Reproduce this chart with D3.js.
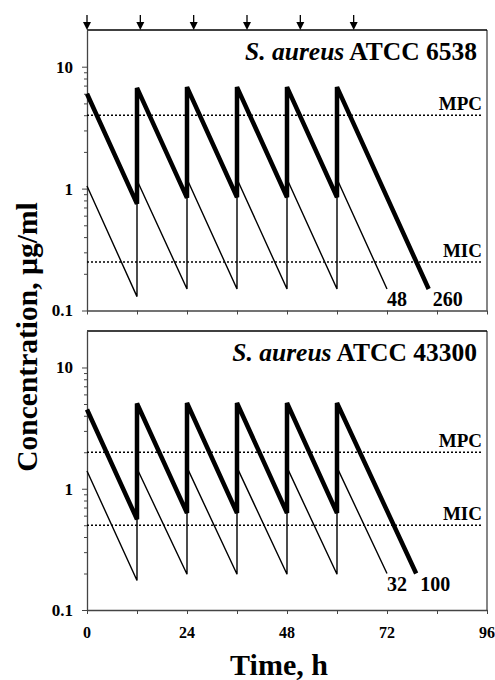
<!DOCTYPE html>
<html>
<head>
<meta charset="utf-8">
<script src="https://cdn.jsdelivr.net/npm/d3@7"></script>
<style>
  body { margin: 0; background: #fff; }
  text { font-family: "Liberation Serif", "Times New Roman", serif; font-weight: bold; fill: #000; }
</style>
</head>
<body>
<svg id="chart" width="495" height="680"></svg>
<script>
// dosing arrows (h) as drawn on top of the figure
var doseArrows = [0, 12.8, 25.6, 38.4, 51.2, 64];
var xTickValues = [0, 12, 24, 36, 48, 60, 72, 84, 96];
var xTickLabels = [0, 24, 48, 72, 96];
var yTickLabels = [0.1, 1, 10];

// panel 1: S. aureus ATCC 6538
var time6538Thick = [0, 12, 12, 24, 24, 36, 36, 48, 48, 60, 60, 82];
var conc6538Thick = [6.0, 0.75, 6.7, 0.84, 6.8, 0.85, 6.8, 0.85, 6.8, 0.85, 6.8, 0.15];
var time6538Thin = [0, 12, 12, 24, 24, 36, 36, 48, 48, 60, 60, 72];
var conc6538Thin = [1.05, 0.13, 1.17, 0.15, 1.2, 0.15, 1.2, 0.15, 1.2, 0.15, 1.2, 0.15];

// panel 2: S. aureus ATCC 43300
var time43300Thick = [0, 12, 12, 24, 24, 36, 36, 48, 48, 60, 60, 79];
var conc43300Thick = [4.5, 0.56, 5.05, 0.63, 5.1, 0.63, 5.1, 0.63, 5.1, 0.63, 5.1, 0.2];
var time43300Thin = [0, 12, 12, 24, 24, 36, 36, 48, 48, 60, 60, 72];
var conc43300Thin = [1.4, 0.175, 1.47, 0.197, 1.5, 0.197, 1.5, 0.197, 1.5, 0.197, 1.5, 0.2];

var panels = [
    { strain: "ATCC 6538", mpc: 4, mic: 0.25, thinLabel: "48", thickLabel: "260",
      thickT: time6538Thick, thickC: conc6538Thick, thinT: time6538Thin, thinC: conc6538Thin,
      top: 30, bottom: 310.5, xLabels: false, arrows: true },
    { strain: "ATCC 43300", mpc: 2, mic: 0.5, thinLabel: "32", thickLabel: "100",
      thickT: time43300Thick, thickC: conc43300Thick, thinT: time43300Thin, thinC: conc43300Thin,
      top: 331, bottom: 610, xLabels: true, arrows: false }
];

var svg = d3.select("#chart");
var left = 87, right = 487;
var axisColor = "#444";

var x = d3.scaleLinear().domain([0, 96]).range([left, right]);

function zip(t, c) {
    return t.map(function(d, i) { return [d, c[i]]; });
}

panels.forEach(function(p) {
    var y = d3.scaleLog().domain([0.1, 20]).range([p.bottom, p.top]);
    var g = svg.append("g");

    // frame: right and top border
    g.append("line").attr("x1", right).attr("x2", right).attr("y1", p.top).attr("y2", p.bottom)
        .attr("stroke", axisColor).attr("stroke-width", 1.3);
    g.append("line").attr("x1", left).attr("x2", right).attr("y1", p.top).attr("y2", p.top)
        .attr("stroke", "#000").attr("stroke-width", 1.5);

    // y axis with log minor ticks
    var yAxis = g.append("g").attr("transform", "translate(" + left + ",0)")
        .call(d3.axisLeft(y).ticks(10).tickSizeOuter(0).tickFormat(""));
    yAxis.selectAll(".tick line")
        .attr("x2", function(d) { return yTickLabels.indexOf(d) >= 0 ? -5 : -3; });
    yAxis.selectAll(".tick").filter(function(d) { return d > 19; }).remove();
    yAxis.select(".domain").attr("stroke", axisColor).attr("stroke-width", 1.3);
    yAxis.selectAll("line").attr("stroke", axisColor);

    g.selectAll(".ylab").data(yTickLabels).enter().append("text")
        .attr("x", 73).attr("y", function(d) { return y(d); })
        .attr("dy", "0.35em").attr("text-anchor", "end")
        .style("font-size", "17px")
        .text(function(d) { return d; });

    // x axis
    var xAxis = g.append("g").attr("transform", "translate(0," + p.bottom + ")")
        .call(d3.axisBottom(x).tickValues(xTickValues).tickSize(4).tickSizeOuter(0).tickFormat(""));
    xAxis.select(".domain").attr("stroke", axisColor).attr("stroke-width", 1.3);
    xAxis.selectAll("line").attr("stroke", axisColor);

    if (p.xLabels) {
        g.selectAll(".xlab").data(xTickLabels).enter().append("text")
            .attr("x", function(d) { return x(d); }).attr("y", 638)
            .attr("text-anchor", "middle").style("font-size", "16px")
            .text(function(d) { return d; });
    }

    // MPC / MIC dotted lines
    [["MPC", p.mpc], ["MIC", p.mic]].forEach(function(r) {
        g.append("line").attr("x1", left).attr("x2", right - 4)
            .attr("y1", y(r[1])).attr("y2", y(r[1]))
            .attr("stroke", "#000").attr("stroke-width", 1.4).attr("stroke-dasharray", "2,2");
        g.append("text").attr("x", 482).attr("y", y(r[1]) - 5)
            .attr("text-anchor", "end").style("font-size", "19px").text(r[0]);
    });

    // concentration curves
    var line = d3.line().x(function(d) { return x(d[0]); }).y(function(d) { return y(d[1]); });
    var thin = zip(p.thinT, p.thinC), thick = zip(p.thickT, p.thickC);
    g.append("path").datum(thin).attr("d", line)
        .attr("fill", "none").attr("stroke", "#000").attr("stroke-width", 1.4);
    g.append("path").datum(thick).attr("d", line)
        .attr("fill", "none").attr("stroke", "#000").attr("stroke-width", 4.5)
        .attr("stroke-linejoin", "miter");

    var thinEnd = thin[thin.length - 1], thickEnd = thick[thick.length - 1];
    g.append("text").attr("x", x(thinEnd[0]) + 10).attr("y", y(thinEnd[1]) + 17)
        .attr("text-anchor", "middle").style("font-size", "20px").text(p.thinLabel);
    g.append("text").attr("x", x(thickEnd[0]) + 19).attr("y", y(thickEnd[1]) + 17)
        .attr("text-anchor", "middle").style("font-size", "20px").text(p.thickLabel);

    // strain title
    var title = g.append("text").attr("x", 477).attr("y", p.top + 30)
        .attr("text-anchor", "end").style("font-size", "25.5px");
    title.append("tspan").style("font-style", "italic").text("S. aureus");
    title.append("tspan").text(" " + p.strain);

    // dosing arrows
    if (p.arrows) {
        var arr = g.selectAll(".arrow").data(doseArrows).enter().append("g")
            .attr("transform", function(d) { return "translate(" + x(d) + "," + p.top + ")"; });
        arr.append("line").attr("y1", -15).attr("y2", -6).attr("stroke", "#000").attr("stroke-width", 1.3);
        arr.append("path").attr("d", "M-4,-8L4,-8L0,0Z").attr("fill", "#000");
    }
});

// axis titles
svg.append("text").attr("x", 279).attr("y", 675).attr("text-anchor", "middle")
    .style("font-size", "30px").text("Time, h");
svg.append("text").attr("transform", "translate(37,337) rotate(-90)")
    .attr("text-anchor", "middle").style("font-size", "29.5px").text("Concentration, µg/ml");
</script>
</body>
</html>
